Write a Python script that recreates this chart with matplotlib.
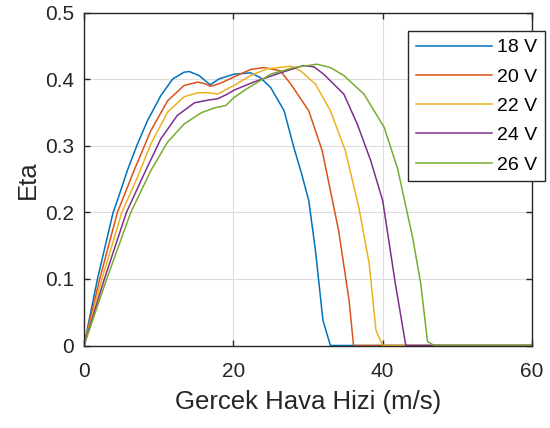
import numpy as np
import matplotlib.pyplot as plt

plt.rcParams['font.family'] = ['Liberation Sans', 'DejaVu Sans']

labels = ["18 V", "20 V", "22 V", "24 V", "26 V"]
colors = ["#0072BD", "#D95319", "#EDB120", "#7E2F8E", "#77AC30"]

# airspeed (m/s) and efficiency for each voltage
x18 = [0, 1.8, 3.9, 4.47, 5.8, 7.16, 8.5, 10.3, 11.9, 13.4, 14.1, 15.4, 16.9, 18.1, 20.1, 22.3, 23.6,
       25.0, 26.8, 28.1, 29.1, 30.1, 31.0, 32.0, 33.0, 60]
y18 = [0, 0.1, 0.2, 0.218, 0.263, 0.303, 0.338, 0.376, 0.401, 0.411, 0.412, 0.406, 0.392, 0.401, 0.408, 0.410, 0.403,
       0.388, 0.353, 0.298, 0.26, 0.218, 0.143, 0.038, 0, 0]

x20 = [0, 2.1, 4.47, 6.7, 8.95, 11.2, 13.4, 15.2, 16.1, 16.9, 17.4, 18.6, 20.1, 22.3, 24.1, 26.3,
       27.7, 30.1, 31.9, 34.1, 35.5, 36.1, 60]
y20 = [0, 0.1, 0.2, 0.263, 0.323, 0.368, 0.391, 0.396, 0.394, 0.39, 0.391, 0.396, 0.404, 0.415, 0.418, 0.413,
       0.393, 0.353, 0.293, 0.173, 0.068, 0, 0]

x22 = [0, 2.4, 5.06, 7.16, 8.95, 11.2, 13.4, 15.2, 16.8, 17.9, 19.2, 20.1, 22.3, 24.5, 27.7, 29.0,
       31.0, 33.0, 35.0, 36.8, 38.2, 39.1, 40.0, 60]
y22 = [0, 0.1, 0.2, 0.253, 0.303, 0.351, 0.374, 0.38, 0.38, 0.378, 0.386, 0.391, 0.406, 0.416, 0.420, 0.413,
       0.393, 0.353, 0.293, 0.208, 0.123, 0.023, 0, 0]

x24 = [0, 2.73, 5.68, 8.05, 10.3, 12.5, 14.8, 16.6, 17.9, 19.2, 20.1, 22.7, 26.3, 29.4, 30.8, 32.1,
       34.8, 36.6, 38.4, 40.0, 41.7, 43.1, 60]
y24 = [0, 0.1, 0.2, 0.258, 0.311, 0.346, 0.365, 0.369, 0.371, 0.378, 0.384, 0.396, 0.410, 0.421, 0.419, 0.408,
       0.378, 0.333, 0.278, 0.218, 0.093, 0, 0]

x26 = [0, 3.04, 6.26, 8.95, 11.2, 13.4, 15.7, 17.4, 19.0, 20.1, 21.8, 25.0, 28.1, 31.2, 33.0, 34.8,
       37.5, 40.2, 42.0, 44.0, 45.1, 46.0, 46.9, 60]
y26 = [0, 0.1, 0.2, 0.263, 0.306, 0.333, 0.35, 0.357, 0.361, 0.373, 0.386, 0.408, 0.418, 0.423, 0.418, 0.406,
       0.378, 0.328, 0.266, 0.163, 0.093, 0.006, 0, 0]

xs = [x18, x20, x22, x24, x26]
ys = [y18, y20, y22, y24, y26]

fig = plt.figure(figsize=(5.5, 4.28), dpi=100)
ax = fig.add_axes([84 / 550, 1 - 345.5 / 428, (532 - 84) / 550, (345.5 - 13) / 428])

for x, y, c, lab in zip(xs, ys, colors, labels):
    ax.plot(x, y, color=c, lw=1.1, label=lab)

ax.set_xlim(0, 60)
ax.set_ylim(0, 0.5)
ax.set_xticks([0, 20, 40, 60])
ax.set_yticks([0, 0.1, 0.2, 0.3, 0.4, 0.5])
ax.set_yticklabels(["0", "0.1", "0.2", "0.3", "0.4", "0.5"])
ax.grid(True, color="#dcdcdc", lw=0.8)
ax.set_axisbelow(True)

dark = "#262626"
for s in ax.spines.values():
    s.set_color(dark)
    s.set_linewidth(1.0)
ax.tick_params(direction="in", top=True, right=True, length=4, width=1.0,
               colors=dark, labelsize=15, labelcolor=dark)
ax.tick_params(axis="x", pad=12)
ax.tick_params(axis="y", pad=7)

ax.set_xlabel("Gercek Hava Hizi (m/s)", fontsize=18.5, color=dark, labelpad=6)
ax.set_ylabel("Eta", fontsize=18.5, color=dark, labelpad=4)

leg = ax.legend(loc="upper left", bbox_to_anchor=(408 / 550, 1 - 31 / 428),
                bbox_transform=fig.transFigure, borderaxespad=0, fontsize=14,
                handlelength=3.9, handletextpad=0.3, fancybox=False, framealpha=1,
                borderpad=0.4, labelspacing=0.6)
leg.get_frame().set_edgecolor(dark)
leg.get_frame().set_linewidth(1.0)

fig.savefig("out.png", dpi=100)
